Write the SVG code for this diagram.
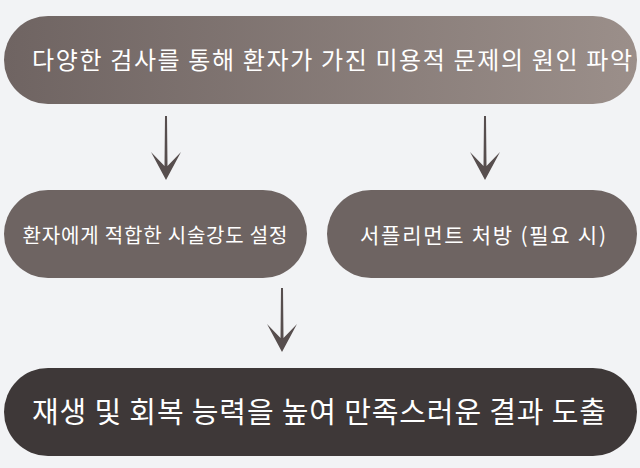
<svg xmlns="http://www.w3.org/2000/svg" width="640" height="468" viewBox="0 0 640 468">
<style>
text{font-family:"Noto Sans CJK KR","Noto Sans",sans-serif;fill:#fff;text-anchor:middle;dominant-baseline:central}
.arrow path{fill:#574e4e}
</style>
<defs>
<linearGradient id="g" x1="0" x2="1"><stop offset="0" stop-color="#6f6462"/><stop offset="1" stop-color="#9b8f8a"/></linearGradient>
</defs>
<rect width="640" height="468" fill="#f2f3f5"/>
<g id="n1"><rect x="4" y="16" width="633" height="88" rx="44" fill="url(#g)"/><text x="332" y="58" font-size="24" textLength="600" lengthAdjust="spacing">다양한 검사를 통해 환자가 가진 미용적 문제의 원인 파악</text></g>
<g id="n2"><rect x="4" y="190" width="303" height="88" rx="44" fill="#6e6462"/><text x="155" y="234" font-size="20" textLength="265" lengthAdjust="spacing">환자에게 적합한 시술강도 설정</text></g>
<g id="n3"><rect x="327" y="190" width="310" height="88" rx="44" fill="#6e6462"/><text x="483" y="234" font-size="21" textLength="246" lengthAdjust="spacing">서플리먼트 처방 (필요 시)</text></g>
<g id="n4"><rect x="4" y="368" width="633" height="88" rx="44" fill="#3e3838"/><text x="319" y="410" font-size="29" textLength="574" lengthAdjust="spacing">재생 및 회복 능력을 높여 만족스러운 결과 도출</text></g>
<g id="connectors" class="arrow">
<path d="M165,116 L167,116 L167.5,166 L181,152 L166,180 L151,152 L164.5,166 Z"/>
<path d="M484,116 L486,116 L486.5,166 L500,152 L485,180 L470,152 L483.5,166 Z"/>
<path d="M281,288 L283,288 L283.5,338 L297,324 L282,352 L267,324 L280.5,338 Z"/>
</g>
</svg>
